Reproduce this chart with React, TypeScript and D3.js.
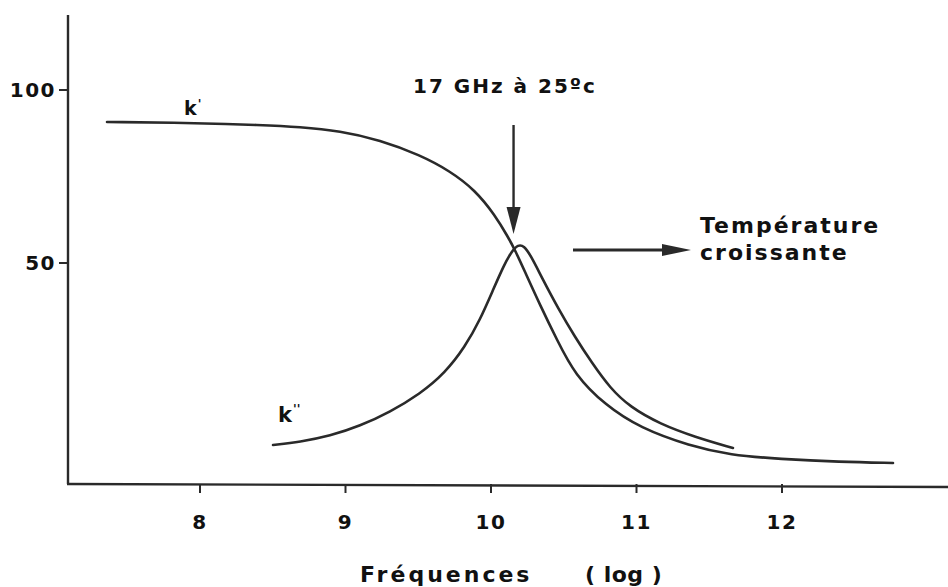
import React, { useEffect } from "react";
import * as d3 from "d3";

// ---- data (log frequency, permittivity) ----
const kPrimeX = [7.361, 8.0, 8.412, 8.687, 8.962, 9.237, 9.512, 9.718, 9.89, 10.027, 10.117, 10.165, 10.234, 10.337, 10.454, 10.577, 10.784, 11.024, 11.368, 11.643, 11.986, 12.399, 12.763];
const kPrimeY = [90.75, 90.46, 89.88, 89.31, 88.15, 85.55, 81.21, 76.59, 71.1, 63.87, 57.51, 53.76, 47.4, 37.86, 27.75, 17.63, 8.96, 2.31, -2.89, -5.49, -6.65, -7.51, -7.8];
const kSecX = [8.502, 8.687, 8.893, 9.1, 9.306, 9.512, 9.684, 9.821, 9.924, 10.014, 10.089, 10.144, 10.186, 10.227, 10.275, 10.351, 10.46, 10.577, 10.694, 10.818, 10.955, 11.162, 11.402, 11.663];
const kSecY = [-2.6, -1.73, 0.0, 2.89, 6.94, 12.14, 18.21, 25.72, 33.53, 42.2, 49.42, 53.47, 55.3, 55.0, 52.02, 45.66, 36.99, 28.61, 21.1, 13.87, 8.38, 3.47, -0.29, -3.47];
const xTicks = [8, 9, 10, 11, 12];
const yTicks = [50, 100];
const peakX = 10.155;

const W = 948;
const H = 587;
const FONT = "'DejaVu Sans', Verdana, sans-serif";
const INK = "#2a2a2a";

export default function App() {
  useEffect(() => {
    document.body.style.margin = "0";
    document.body.style.background = "#fff";
  }, []);

  const x = d3.scaleLinear().domain([8, 12]).range([200, 782]);
  const y = d3.scaleLinear().domain([50, 100]).range([263, 90]);

  const axisX0 = 68;
  const axisY0 = 484;
  const axisTop = 15;

  const line = d3
    .line<[number, number]>()
    .x((d) => x(d[0]))
    .y((d) => y(d[1]))
    .curve(d3.curveBasis);

  const kPrime: [number, number][] = kPrimeX.map((v, i) => [v, kPrimeY[i]]);
  const kSec: [number, number][] = kSecX.map((v, i) => [v, kSecY[i]]);

  const ax = x(peakX);

  return (
    <svg
      width={W}
      height={H}
      viewBox={`0 0 ${W} ${H}`}
      style={{ display: "block", background: "#fff" }}
    >
      {/* axes */}
      <line x1={axisX0} y1={axisTop} x2={axisX0} y2={axisY0} stroke={INK} strokeWidth={2.4} />
      <line x1={axisX0 - 1} y1={axisY0} x2={W} y2={axisY0 + 3} stroke={INK} strokeWidth={2.4} />

      {yTicks.map((t) => (
        <g key={"y" + t}>
          <line x1={axisX0 - 9} x2={axisX0} y1={y(t)} y2={y(t)} stroke={INK} strokeWidth={2} />
          <text
            x={axisX0 - 12}
            y={y(t) + 7}
            textAnchor="end"
            fontFamily={FONT}
            fontWeight="bold"
            fontSize={20}
            letterSpacing={1.5}
            fill="#111"
          >
            {t}
          </text>
        </g>
      ))}

      {xTicks.map((t) => (
        <g key={"x" + t}>
          <line x1={x(t)} x2={x(t)} y1={axisY0} y2={axisY0 + 9} stroke={INK} strokeWidth={2} />
          <text
            x={x(t)}
            y={529}
            textAnchor="middle"
            fontFamily={FONT}
            fontWeight="bold"
            fontSize={20}
            letterSpacing={1.5}
            fill="#111"
          >
            {t}
          </text>
        </g>
      ))}

      {/* axis title */}
      <text x={360} y={582} fontFamily={FONT} fontWeight="bold" fontSize={22} letterSpacing={3} fill="#111">
        Fréquences
      </text>
      <text x={585} y={582} fontFamily={FONT} fontWeight="bold" fontSize={22} letterSpacing={0.5} fill="#111">
        ( log )
      </text>

      {/* curves */}
      <path d={line(kPrime) || ""} fill="none" stroke={INK} strokeWidth={2.6} strokeLinecap="round" />
      <path d={line(kSec) || ""} fill="none" stroke={INK} strokeWidth={2.6} strokeLinecap="round" />

      {/* curve labels */}
      <text x={184} y={115} fontFamily={FONT} fontWeight="bold" fontSize={19} fill="#111">
        k<tspan dy={-7} dx={1} fontSize={12}>'</tspan>
      </text>
      <text x={278} y={422} fontFamily={FONT} fontWeight="bold" fontSize={21} fill="#111">
        k<tspan dy={-9} dx={1} fontSize={12}>''</tspan>
      </text>

      {/* peak annotation */}
      <text
        x={505}
        y={93}
        textAnchor="middle"
        fontFamily={FONT}
        fontWeight="bold"
        fontSize={20}
        letterSpacing={2}
        fill="#111"
      >
        17 GHz à 25ºc
      </text>
      <line x1={ax} x2={ax} y1={125} y2={212} stroke={INK} strokeWidth={2.4} />
      <path d={`M${ax - 7},207 L${ax + 7},207 L${ax},234 Z`} fill={INK} />

      {/* temperature arrow */}
      <line x1={573} x2={668} y1={250} y2={250} stroke={INK} strokeWidth={3} />
      <path d="M662,244 L691,250 L662,256 Z" fill={INK} />
      <text x={700} y={233} fontFamily={FONT} fontWeight="bold" fontSize={22} letterSpacing={2} fill="#111">
        Température
      </text>
      <text x={700} y={260} fontFamily={FONT} fontWeight="bold" fontSize={22} letterSpacing={2} fill="#111">
        croissante
      </text>
    </svg>
  );
}
